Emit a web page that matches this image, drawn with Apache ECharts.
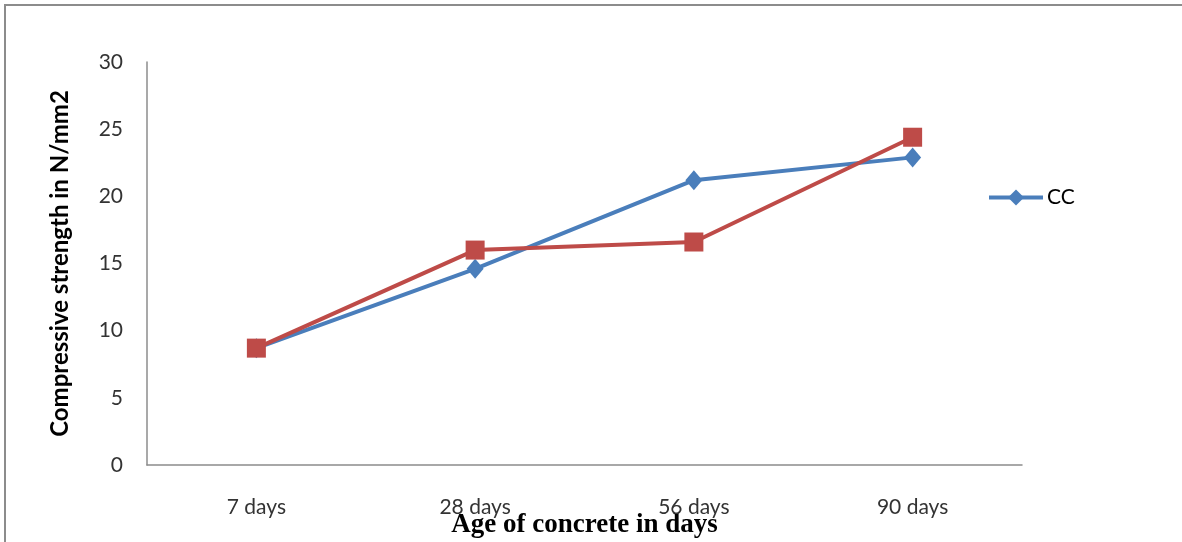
<!DOCTYPE html>
<html>
<head>
<meta charset="utf-8">
<script src="https://cdn.jsdelivr.net/npm/echarts@6/dist/echarts.min.js"></script>
<style>
  html, body { margin: 0; padding: 0; background: #fff; }
  #chart { width: 1182px; height: 542px; }
</style>
</head>
<body>
<div id="chart"></div>
<script>
// Concrete age categories and compressive strength (N/mm2)
const ages = ['7 days', '28 days', '56 days', '90 days'];
const ccStrength = [8.7, 14.6, 21.2, 22.9];
const mixStrength = [8.7, 16.0, 16.6, 24.4];
const yTicks = { min: 0, max: 30, interval: 5 };

const labelFont = 'Lato, "Open Sans", sans-serif';

const chart = echarts.init(document.getElementById('chart'));
chart.setOption({
  animation: false,
  backgroundColor: '#ffffff',
  graphic: [
    {
      type: 'rect',
      shape: { x: 5, y: 5, width: 1300, height: 700 },
      style: { fill: 'none', stroke: '#8c8c8c', lineWidth: 2 },
      silent: true
    }
  ],
  grid: { left: 147, right: 160, top: 62, bottom: 77, containLabel: false, outerBoundsMode: 'none' },
  legend: {
    data: ['CC'],
    left: 987,
    top: 187,
    padding: 0,
    itemWidth: 54,
    itemHeight: 20,
    itemGap: 4,
    lineStyle: { width: 4 },
    textStyle: { fontFamily: labelFont, fontSize: 21, color: '#000', padding: [0, 0, 0, -1] }
  },
  xAxis: {
    type: 'category',
    data: ages,
    boundaryGap: true,
    axisLine: { lineStyle: { color: '#8c8c8c', width: 1.5 } },
    axisTick: { show: false },
    axisLabel: { fontFamily: labelFont, fontSize: 21, color: '#333', margin: 32 },
    name: 'Age of concrete in days',
    nameLocation: 'middle',
    nameGap: 47,
    nameMoveOverlap: false,
    nameTextStyle: {
      fontFamily: '"Liberation Serif", "DejaVu Serif", serif',
      fontWeight: 'bold', fontSize: 27, color: '#000'
    }
  },
  yAxis: {
    type: 'value',
    min: yTicks.min,
    max: yTicks.max,
    interval: yTicks.interval,
    splitLine: { show: false },
    axisLine: { show: true, lineStyle: { color: '#8c8c8c', width: 1.5 } },
    axisTick: { show: false },
    axisLabel: { fontFamily: labelFont, fontSize: 21, color: '#333', margin: 24 },
    name: 'Compressive strength in N/mm2',
    nameLocation: 'middle',
    nameGap: 75,
    nameMoveOverlap: false,
    nameTextStyle: { fontFamily: labelFont, fontWeight: 'bold', fontSize: 24, color: '#000' }
  },
  series: [
    {
      name: 'CC',
      type: 'line',
      data: ccStrength,
      symbol: 'diamond',
      symbolSize: [17, 20],
      lineStyle: { color: '#4a7ebb', width: 4 },
      itemStyle: { color: '#4a7ebb' }
    },
    {
      name: '',
      type: 'line',
      data: mixStrength,
      symbol: 'rect',
      symbolSize: 19,
      lineStyle: { color: '#be4b48', width: 4 },
      itemStyle: { color: '#be4b48' }
    }
  ]
});
</script>
</body>
</html>
